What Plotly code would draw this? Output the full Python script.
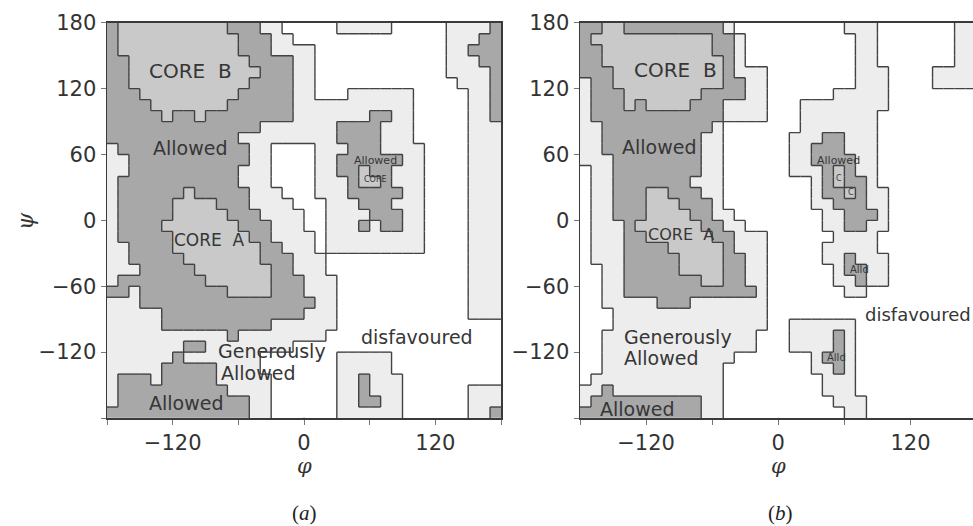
import plotly.graph_objects as go

# ---------------- data ----------------
# Region codes on a 10-degree phi/psi grid, rows from psi 170..180 (top) down to -180..-170,
# columns from phi -180..-170 (left) to 170..180.
# 0 = disfavoured, 1 = generously allowed, 2 = allowed, 3 = core
GRID_A = [
    "2" "3333333333" "222" "11" "00000" "11111" "00000" "1111" "2",
    "2" "33333333333" "222" "11" "00000000000000" "111" "22",
    "2" "33333333333" "222" "1111" "000000000000" "11" "222",
    "22" "33333333333" "2222" "11" "000000000000" "111" "22",
    "22" "333333333333" "222" "11" "000000000000" "1111" "2",
    "22" "33333333333" "2222" "11" "0000000000000" "111" "2",
    "222" "333333333" "22222" "11" "000" "111111" "00000" "11" "2",
    "2222" "3333333" "222222" "11111111111" "00000" "11" "2",
    "22222" "3" "22" "3" "22222222" "1111111" "22" "11" "00000" "11" "2",
    "22222222222222" "1111111" "2222" "111" "00000" "111",
    "222222222222" "111111111" "2222" "111" "00000" "111",
    "1" "222222222222" "11" "0000" "111" "222" "1111" "0000" "111",
    "11" "22222222222" "11" "0000" "11" "222222" "11" "0000" "111",
    "11" "2222222222" "111" "0000" "11" "22" "3" "22" "111" "0000" "111",
    "1" "22222222222" "111" "0000" "111" "2" "33" "2" "111" "0000" "111",
    "1" "222222" "3" "22222" "111" "000" "111" "22222" "11" "0000" "111",
    "1" "22222" "3333" "222" "1111" "000" "111" "222" "111" "0000" "111",
    "1" "22222" "33333" "222" "1111" "00" "1111" "222" "11" "0000" "111",
    "1" "2222" "3333333" "222" "111" "00" "111" "2" "1" "22" "11" "0000" "111",
    "1" "22222" "3333333" "22" "1111" "0" "111111111" "0000" "111",
    "11" "2222" "33333333" "22" "111" "0" "111111111" "0000" "111",
    "11" "22222" "3333333" "222" "111" "0000000000000" "111",
    "111" "22222" "3333333" "22" "111" "0000000000000" "111",
    "1" "22222222" "333333" "222" "111" "000000000000" "111",
    "22" "1" "22222222" "3333" "222" "111" "000000000000" "111",
    "111" "2222222222222222" "11" "000000000000" "111",
    "11111" "2222222222222" "111" "000000000000" "111",
    "11111" "2222222222" "111111" "000000000000000",
    "11111111111" "2" "11111111" "0000000000000000",
    "1111111" "22" "11111111" "0000000000000000000",
    "111111" "2" "1111111" "0000000" "11111" "0000000000",
    "11111" "22222" "1111" "0000000" "11111" "0000000000",
    "1" "222" "1" "22222" "11111" "000000" "11" "2" "111" "000000000",
    "1" "2222222222" "1111" "000000" "11" "2" "111" "000000" "111",
    "1" "222222222222" "11" "000000" "11" "22" "11" "000000" "111",
    "2222222222222" "11" "000000" "111111" "000000" "11" "2",
]

GRID_B = [
    "22" "33" "222222222" "1" "0000000000" "111" "0000000" "11",
    "2" "33333333333" "22" "1" "0000000000" "11" "0000000" "11",
    "22" "3333333333" "22" "1" "0000000000" "11" "0000000" "11",
    "22" "33333333333" "2" "1" "0000000000" "11" "0000000" "11",
    "222" "3333333333" "2" "111" "00000000" "111" "0000" "1111",
    "1" "22" "3333333333" "22" "11" "00000000" "111" "0000" "1111",
    "1" "222" "3333333" "2222" "11" "000000" "11111" "00000000",
    "1" "222" "3" "2" "3333" "222" "1111" "000" "11111111" "00000000",
    "1" "222222222222" "1111" "000" "1111111" "000000000",
    "11" "2222222222" "1" "0000000" "1111111" "000000000",
    "11" "222222222" "11" "000000" "111" "22" "111" "000000000",
    "11" "222222222" "11" "000000" "11" "222" "111" "000000000",
    "111" "22222222" "11" "000000" "11" "2222" "11" "000000000",
    "0" "11" "22222222" "11" "000000" "111" "2" "3" "2" "11" "000000000",
    "0" "11" "2222222" "111" "00000000" "1" "2" "3" "22" "1" "000000000",
    "0" "11" "222" "33" "222" "11" "00000000" "1" "22" "3" "2" "11" "00000000",
    "0" "11" "222" "333" "222" "1" "00000000" "11" "222" "11" "00000000",
    "0" "11" "222" "3333" "22" "11" "00000000" "11" "222" "1" "00000000",
    "0" "111" "2" "333333" "22" "11" "0000000" "11" "22" "11" "00000000",
    "0" "111" "22" "333333" "22" "111" "000000" "1111" "000000000",
    "0" "111" "2222" "33333" "2" "111" "00000" "11111" "000000000",
    "0" "111" "22222" "3333" "22" "11" "00000" "11" "2" "111" "00000000",
    "00" "11" "22222" "3333" "22" "11" "000000" "1" "22" "11" "00000000",
    "00" "11" "2222222" "33" "22" "11" "000000" "11" "2" "11" "00000000",
    "00" "11" "222222222222" "1" "0000000" "11" "0000000000",
    "00" "11111" "222" "1111111" "0000000000000000000",
    "000" "11111111111111" "0000000000000000000",
    "000" "11111111111111" "00" "111111" "00000000000",
    "00" "11111111111111" "000" "1111" "2" "1" "00000000000",
    "00" "11111111111111" "000" "1111" "2" "1" "00000000000",
    "00" "111111111111" "0000000" "1" "22" "1" "00000000000",
    "00" "11111111111" "00000000" "11" "2" "1" "00000000000",
    "0" "111111111111" "000000000" "111" "00000000000",
    "11" "2" "1111111111" "000000000" "111" "00000000000",
    "1" "2222222222" "11" "0000000000" "111" "0000000000",
    "22222222222" "11" "00000000000" "11" "0000000000",
]

PHI_EDGES = list(range(-180, 190, 10))
PSI_EDGES_DESC = list(range(180, -190, -10))

TICK_VALS = [-180, -120, -60, 0, 60, 120, 180]
X_TICK_TEXT = ["", "\u2212120", "", "0", "", "120", ""]
Y_TICK_TEXT = ["", "\u2212120", "\u221260", "0", "60", "120", "180"]

# labels: (panel, text, phi, psi, size, xanchor)
LABELS = [
    ("a", "CORE  B", -104, 136, 20, "center"),
    ("a", "Allowed", -104, 66, 19, "center"),
    ("a", "CORE  A", -86, -18, 17, "center"),
    ("a", "Allowed", 65, 55, 11, "center"),
    ("a", "CORE", 65, 37, 8, "center"),
    ("a", "Generously", -80, -119, 19, "left"),
    ("a", "Allowed", -78, -139, 19, "left"),
    ("a", "Allowed", -108, -166, 19, "center"),
    ("a", "disfavoured", 103, -106, 19, "center"),
    ("b", "CORE  B", -93, 137, 20, "center"),
    ("b", "Allowed", -108, 67, 19, "center"),
    ("b", "CORE  A", -88, -13, 16, "center"),
    ("b", "Allowed", 55, 55, 11, "center"),
    ("b", "C", 55, 38, 8, "center"),
    ("b", "C", 66, 25, 8, "center"),
    ("b", "Alld", 74, -45, 10, "center"),
    ("b", "Alld", 53, -125, 10, "center"),
    ("b", "disfavoured", 77, -86, 18, "left"),
    ("b", "Generously", -142, -106, 19, "left"),
    ("b", "Allowed", -142, -125, 19, "left"),
    ("b", "Allowed", -128, -172, 19, "center"),
]

# ---------------- style ----------------
W, H = 973, 526
COLORS = ["#ffffff", "#ededed", "#a8a8a8", "#c9c9c9"]
EDGE = "#424242"
TEXT = "#363636"

colorscale = []
for k, c in enumerate(COLORS):
    colorscale.append([k / 4, c])
    colorscale.append([(k + 1) / 4, c])

phi_centers = [(PHI_EDGES[i] + PHI_EDGES[i + 1]) / 2 for i in range(36)]
psi_centers = [(PSI_EDGES_DESC[i] + PSI_EDGES_DESC[i + 1]) / 2 for i in range(36)]


def boundaries(grid):
    xs, ys = [], []
    for r, row in enumerate(grid):
        assert len(row) == 36, (r, len(row))
        top, bot = PSI_EDGES_DESC[r], PSI_EDGES_DESC[r + 1]
        for c in range(36):
            left, right = PHI_EDGES[c], PHI_EDGES[c + 1]
            if c + 1 < 36 and row[c] != row[c + 1]:
                xs += [right, right, None]
                ys += [top, bot, None]
            if r + 1 < 36 and row[c] != grid[r + 1][c]:
                xs += [left, right, None]
                ys += [bot, bot, None]
    return xs, ys


fig = go.Figure()
for grid, xa, ya in [(GRID_A, "x", "y"), (GRID_B, "x2", "y2")]:
    assert len(grid) == 36
    z = [[int(ch) for ch in row] for row in grid]
    fig.add_trace(go.Heatmap(x=phi_centers, y=psi_centers, z=z, zmin=-0.5, zmax=3.5,
                             colorscale=colorscale, showscale=False, hoverinfo="skip",
                             xaxis=xa, yaxis=ya))
    bx, by = boundaries(grid)
    fig.add_trace(go.Scatter(x=bx, y=by, mode="lines", line=dict(color=EDGE, width=1.4),
                             hoverinfo="skip", showlegend=False, xaxis=xa, yaxis=ya))

# pixel layout
ax_left, ax_right = 107, 501
bx_left = 580
b_zero = 778.3
b_scale = 1.1017
b_right_val = (W - b_zero) / b_scale
y_top, y_bot = 22.8, 418

tickfont = dict(family="DejaVu Sans", size=21, color="#333333")
common_x = dict(tickmode="array", tickvals=TICK_VALS, ticktext=X_TICK_TEXT, ticks="outside",
                ticklen=5, tickcolor="#777777", tickfont=tickfont, showgrid=False,
                zeroline=True, zerolinecolor="#3a3a3a", zerolinewidth=1.5,
                showline=True, linecolor="#3a3a3a", linewidth=1.5, mirror=True,
                layer="above traces", fixedrange=True, automargin=False)
common_y = dict(tickmode="array", tickvals=TICK_VALS, ticktext=Y_TICK_TEXT, ticks="outside",
                ticklen=5, tickcolor="#777777", tickfont=tickfont, showgrid=False,
                zeroline=True, zerolinecolor="#3a3a3a", zerolinewidth=1.5,
                showline=True, linecolor="#3a3a3a", linewidth=1.5,
                layer="above traces", range=[-180, 180], fixedrange=True, automargin=False,
                domain=[1 - y_bot / H, 1 - y_top / H])

fig.update_layout(
    width=W, height=H, autosize=False,
    margin=dict(l=0, r=0, t=0, b=0, pad=0),
    paper_bgcolor="white", plot_bgcolor="white", showlegend=False,
    xaxis=dict(common_x, domain=[ax_left / W, ax_right / W], range=[-180, 180], anchor="y"),
    yaxis=dict(common_y, anchor="x", mirror=True),
    xaxis2=dict(common_x, domain=[bx_left / W, 1.0], range=[-180, b_right_val], anchor="y2"),
    yaxis2=dict(common_y, anchor="x2", mirror=False),
)

ann = []
for panel, text, phi, psi, size, xanchor in LABELS:
    suffix = "" if panel == "a" else "2"
    ann.append(dict(x=phi, y=psi, xref="x" + suffix, yref="y" + suffix, text=text,
                    showarrow=False, xanchor=xanchor, yanchor="middle",
                    font=dict(family="DejaVu Sans", size=size, color=TEXT)))

serif = "DejaVu Serif"


def paper_text(px, py, text, family, size, color="#333333", angle=0):
    return dict(x=px / W, y=1 - py / H, xref="paper", yref="paper", text=text,
                xanchor="center", yanchor="middle", textangle=angle, showarrow=False,
                font=dict(family=family, size=size, color=color))


ann.append(paper_text(304, 466, "<i>\u03c6</i>", serif, 21))
ann.append(paper_text(b_zero, 466, "<i>\u03c6</i>", serif, 21))
ann.append(paper_text(25, 221, "<i>\u03c8</i>", serif, 22, angle=-90))
ann.append(paper_text(304, 513, "(<i>a</i>)", "Liberation Serif", 21, "#222222"))
ann.append(paper_text(780, 513, "(<i>b</i>)", "Liberation Serif", 21, "#222222"))
fig.update_layout(annotations=ann)

fig.write_html("out.html", config={"displayModeBar": False, "staticPlot": True},
               post_script="document.body.style.margin='0';document.body.style.overflow='hidden';")
